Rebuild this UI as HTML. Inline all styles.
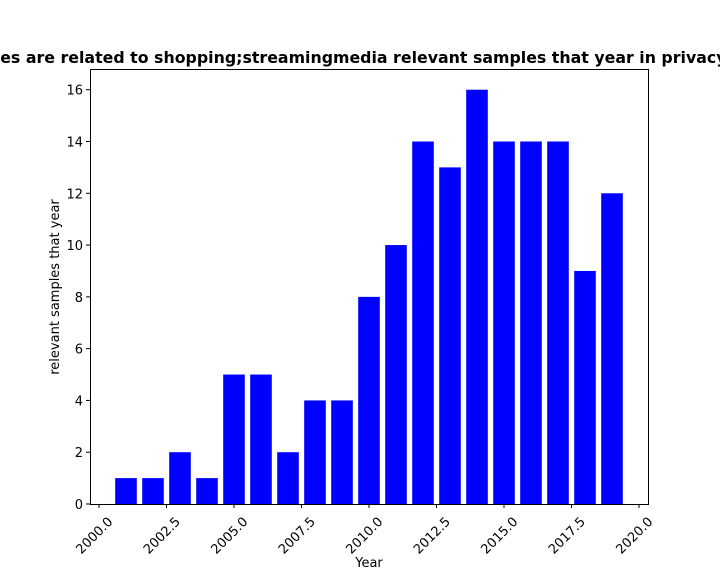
<!DOCTYPE html>
<html><head><meta charset="utf-8"><style>
body{margin:0;background:#fff;}
svg{display:block;font-family:"DejaVu Sans","Liberation Sans",sans-serif;}
</style></head><body>
<svg id="chart" width="720" height="576">
<rect x="0" y="0" width="720" height="576" fill="#fff"/>
<text x="-55" y="63" font-size="15.8" font-weight="bold" fill="#000">Samples are related to shopping;streamingmedia relevant samples that year in privacy policy</text>
<g id="bars"></g>
<g id="xticks"></g>
<g id="yticks"></g>
<rect x="90.5" y="69.5" width="558" height="435" fill="none" stroke="#000" stroke-width="1"/>
<text x="369" y="567" font-size="13" text-anchor="middle">Year</text>
<text transform="translate(59,287) rotate(-90)" font-size="13" text-anchor="middle">relevant samples that year</text>
</svg>
<script>
const years=[2001,2002,2003,2004,2005,2006,2007,2008,2009,2010,2011,2012,2013,2014,2015,2016,2017,2018,2019];
const counts=[1,1,2,1,5,5,2,4,4,8,10,14,13,16,14,14,14,9,12];
const xTickValues=[2000,2002.5,2005,2007.5,2010,2012.5,2015,2017.5,2020];
const xTickLabels=["2000.0","2002.5","2005.0","2007.5","2010.0","2012.5","2015.0","2017.5","2020.0"];
const yTickValues=[0,2,4,6,8,10,12,14,16];
const NS="http://www.w3.org/2000/svg";
const L=90,R=648,T=69,B=504;
const xMin=1999.6667,xMax=2020.3333,yMax=16.8;
function xs(v){return L+(v-xMin)/(xMax-xMin)*(R-L);}
function ys(v){return B-v/yMax*(B-T);}
const bars=document.getElementById('bars');
years.forEach((y,i)=>{
 const r=document.createElementNS(NS,'rect');
 const x0=xs(y-0.4),x1=xs(y+0.4);
 r.setAttribute('x',x0);r.setAttribute('width',x1-x0);
 r.setAttribute('y',ys(counts[i]));r.setAttribute('height',ys(0)-ys(counts[i]));
 r.setAttribute('fill','#0000ff');
 
 
 bars.appendChild(r);
});
const xt=document.getElementById('xticks');
xTickValues.forEach((v,i)=>{
 const x=xs(v);
 const l=document.createElementNS(NS,'line');
 l.setAttribute('x1',x);l.setAttribute('x2',x);l.setAttribute('y1',B);l.setAttribute('y2',B+4);l.setAttribute('stroke','#000');
 
 
 xt.appendChild(l);
 const t=document.createElementNS(NS,'text');
 t.setAttribute('transform','translate('+(x+8)+','+(B+12)+') rotate(-45)');
 t.setAttribute('text-anchor','end');t.setAttribute('font-size','13');t.setAttribute('dy','0.7em');
 t.textContent=xTickLabels[i];
 
 
 xt.appendChild(t);
});
const yt=document.getElementById('yticks');
yTickValues.forEach(v=>{
 const y=ys(v);
 const l=document.createElementNS(NS,'line');
 l.setAttribute('x1',L-4);l.setAttribute('x2',L);l.setAttribute('y1',y);l.setAttribute('y2',y);l.setAttribute('stroke','#000');
 
 
 yt.appendChild(l);
 const t=document.createElementNS(NS,'text');
 t.setAttribute('x',L-7);t.setAttribute('y',y+5);t.setAttribute('text-anchor','end');t.setAttribute('font-size','13');
 t.textContent=v;
 
 
 yt.appendChild(t);
});
</script>
</body></html>
